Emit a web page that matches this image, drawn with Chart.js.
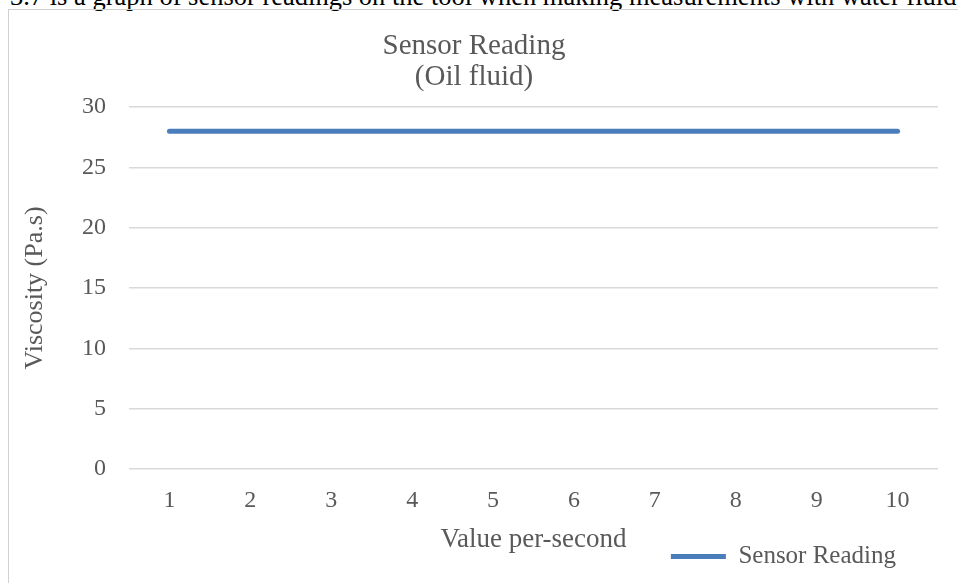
<!DOCTYPE html>
<html>
<head>
<meta charset="utf-8">
<script src="https://cdn.jsdelivr.net/npm/chart.js@4"></script>
<style>
  html, body { margin: 0; padding: 0; background: #ffffff; overflow: hidden; }
  body { width: 958px; height: 583px; position: relative; }
  #caption { position: absolute; left: 10px; top: -19px; font-family: "Liberation Serif", serif; font-size: 26.5px; color: #000; white-space: nowrap; }
  #frame { position: absolute; left: 8px; top: 9px; width: 970px; height: 600px; border: 1px solid #d0d0d0; box-sizing: border-box; }
  #wrap { position: absolute; left: 0; top: 0; width: 958px; height: 583px; }
</style>
</head>
<body>
<div id="caption">3.7 is a graph of sensor readings on the tool when making measurements with water fluid</div>
<div id="frame"></div>
<div id="wrap"><canvas id="c" width="958" height="583"></canvas></div>
<script>
const categories = ['1', '2', '3', '4', '5', '6', '7', '8', '9', '10'];
const sensorReading = [28, 28, 28, 28, 28, 28, 28, 28, 28, 28];
const yTicks = [0, 5, 10, 15, 20, 25, 30];
const titleLines = ['Sensor Reading', '(Oil fluid)'];
const seriesName = 'Sensor Reading';
const xTitle = 'Value per-second';
const yTitle = 'Viscosity (Pa.s)';

const FONT = '"Liberation Serif", "DejaVu Serif", serif';
const GREY = '#595959';

const legendShift = {
  id: 'legendShift',
  afterLayout(chart) {
    if (chart.legend) {
      chart.legend.right = 898;
    }
  }
};

new Chart(document.getElementById('c'), {
  type: 'line',
  data: {
    labels: categories,
    datasets: [{
      label: seriesName,
      data: sensorReading,
      borderColor: '#4a7ebb',
      backgroundColor: '#4a7ebb',
      borderWidth: 5,
      borderCapStyle: 'round',
      pointRadius: 0,
      pointHoverRadius: 0,
      tension: 0,
      fill: false
    }]
  },
  options: {
    responsive: false,
    animation: false,
    devicePixelRatio: 1,
    layout: { padding: { left: 10, right: 20, top: 0, bottom: 4 }, autoPadding: false },
    plugins: {
      title: {
        display: true,
        text: titleLines,
        color: GREY,
        font: { family: FONT, size: 29, weight: 'normal', lineHeight: '31px' },
        padding: { top: 31, bottom: 14 }
      },
      legend: {
        display: true,
        position: 'bottom',
        align: 'end',
        labels: {
          usePointStyle: true,
          pointStyle: 'line',
          pointStyleWidth: 55,
          padding: 2,
          color: GREY,
          font: { family: FONT, size: 25 }
        }
      },
      tooltip: { enabled: false }
    },
    scales: {
      x: {
        offset: true,
        grid: { display: false, drawTicks: false },
        border: { display: false },
        ticks: { color: GREY, font: { family: FONT, size: 24 }, padding: 17, maxRotation: 0 },
        title: {
          display: true, text: xTitle, color: GREY,
          font: { family: FONT, size: 27 },
          padding: { top: 0, bottom: -14 }
        },
        afterFit(scale) { scale.height = 73; }
      },
      y: {
        min: 0, max: 30,
        afterBuildTicks(scale) { scale.ticks = yTicks.map(v => ({ value: v })); },
        grid: { color: '#d9d9d9', lineWidth: 1.5, drawTicks: false },
        border: { display: false },
        ticks: { color: GREY, font: { family: FONT, size: 24 }, padding: 23 },
        title: {
          display: true, text: yTitle, color: GREY,
          font: { family: FONT, size: 26 },
          padding: { top: 9.5, bottom: 0 }
        },
        afterFit(scale) { scale.width = 119; }
      }
    }
  },
  plugins: [legendShift]
});
</script>
</body>
</html>
